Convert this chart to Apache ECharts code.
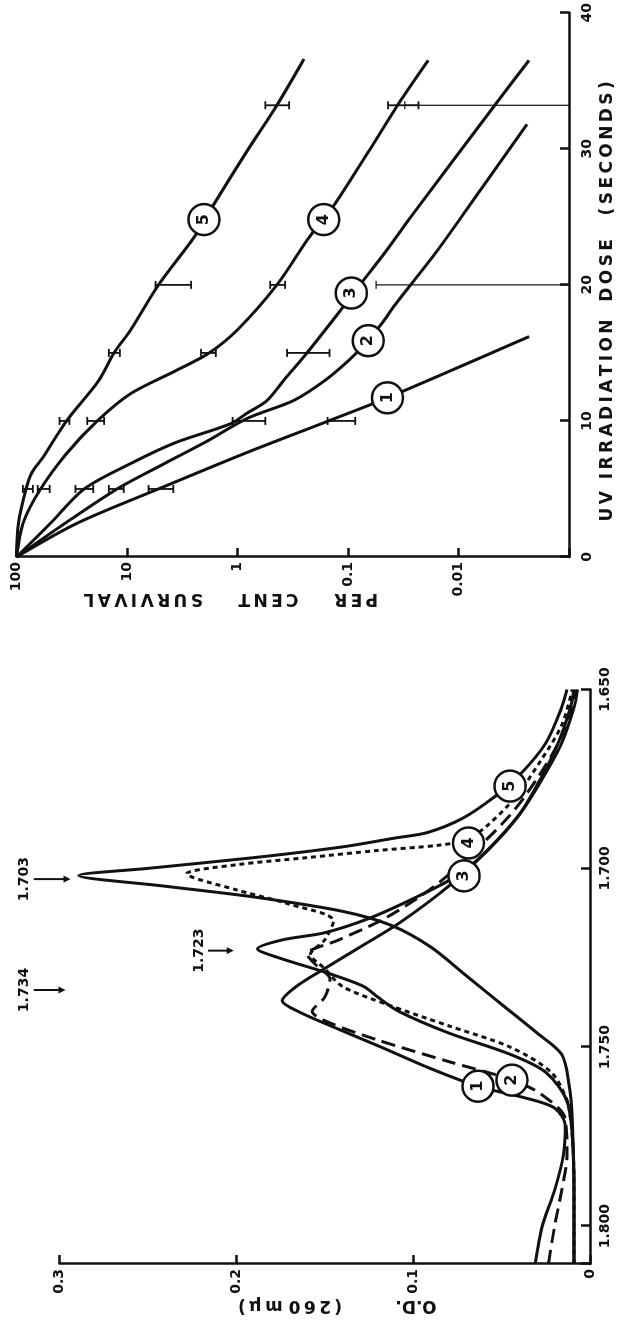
<!DOCTYPE html>
<html>
<head>
<meta charset="utf-8">
<script src="https://cdn.jsdelivr.net/npm/echarts@6/dist/echarts.min.js"></script>
<style>
  html, body { margin: 0; padding: 0; background: #fff; width: 621px; height: 1320px; overflow: hidden; }
  /* figure is printed sideways: draw it upright, then turn it 90deg anticlockwise */
  #chart { position: absolute; left: 0; top: 0; width: 1320px; height: 621px;
           transform-origin: 0 0; transform: translate(0, 1320px) rotate(-90deg); }
</style>
</head>
<body>
<div id="chart"></div>
<script>
// ---- Left panel: O.D. (260 mu) vs buoyant density ----
const densityTicks = [1.650, 1.700, 1.750, 1.800];
const odTicks = [0, 0.1, 0.2, 0.3];

const profile1 = [[1.8105,0.031],[1.800,0.027],[1.790,0.020],[1.780,0.015],[1.772,0.014],[1.767,0.020],[1.764,0.038],
  [1.761,0.063],[1.756,0.090],[1.750,0.118],[1.745,0.142],[1.740,0.165],[1.737,0.174],[1.733,0.166],[1.728,0.150],
  [1.722,0.130],[1.715,0.107],[1.705,0.080],[1.695,0.058],[1.685,0.040],[1.675,0.027],[1.665,0.016],[1.655,0.009],[1.650,0.007]];
const profile2 = [[1.8105,0.0235],[1.800,0.020],[1.790,0.016],[1.780,0.013],[1.770,0.014],[1.763,0.028],[1.759,0.045],
  [1.754,0.080],[1.748,0.120],[1.743,0.148],[1.740,0.157],[1.736,0.150],[1.731,0.147],[1.727,0.155],[1.724,0.160],
  [1.720,0.142],[1.714,0.116],[1.705,0.088],[1.695,0.065],[1.685,0.045],[1.675,0.030],[1.665,0.018],[1.655,0.010],[1.650,0.008]];
const profile3 = [[1.8105,0.009],[1.790,0.009],[1.775,0.010],[1.765,0.013],[1.757,0.025],[1.752,0.045],[1.746,0.080],
  [1.740,0.108],[1.736,0.120],[1.733,0.128],[1.729,0.150],[1.725,0.176],[1.7225,0.188],[1.720,0.174],[1.718,0.150],
  [1.714,0.125],[1.708,0.098],[1.702,0.075],[1.695,0.058],[1.685,0.040],[1.675,0.028],[1.665,0.018],[1.655,0.011],[1.650,0.009]];
const profile4 = [[1.8105,0.009],[1.790,0.009],[1.775,0.010],[1.765,0.013],[1.757,0.022],[1.750,0.045],[1.744,0.080],
  [1.738,0.115],[1.733,0.140],[1.728,0.150],[1.724,0.158],[1.720,0.150],[1.7147,0.145],[1.710,0.170],[1.706,0.200],
  [1.7015,0.228],[1.699,0.200],[1.697,0.160],[1.695,0.120],[1.6935,0.085],[1.692,0.070],[1.688,0.058],[1.680,0.042],
  [1.670,0.028],[1.660,0.016],[1.650,0.010]];
const profile5 = [[1.8105,0.009],[1.790,0.009],[1.770,0.010],[1.760,0.012],[1.752,0.016],[1.746,0.030],[1.738,0.050],
  [1.730,0.070],[1.722,0.090],[1.716,0.112],[1.712,0.140],[1.708,0.190],[1.705,0.240],[1.702,0.289],[1.700,0.250],
  [1.697,0.190],[1.694,0.140],[1.6915,0.110],[1.690,0.092],[1.686,0.072],[1.680,0.054],[1.674,0.040],[1.665,0.025],
  [1.655,0.016],[1.650,0.013]];
const profileTags = [[1.7609,0.0633,'1'],[1.7592,0.0441,'2'],[1.7021,0.0712,'3'],[1.6929,0.0687,'4'],[1.677,0.0452,'5']];

// marker arrows above the peaks: [density, tail O.D., head O.D., text]
const peakArrows = [[1.734,0.3145,0.2966,'1.734'],[1.723,0.2160,0.2014,'1.723'],[1.703,0.3145,0.2937,'1.703']];

// ---- Right panel: per cent survival vs UV dose ----
const doseTicks = [0, 10, 20, 30, 40];
const survivalTicks = [100, 10, 1, 0.1, 0.01];

const survival1 = [[0,100],[2.5,28],[5,5.2],[7.7,0.81],[10,0.15],[11.7,0.044],[16.2,0.0023]];
const survival2 = [[0,100],[2.5,36],[5,12.3],[6.9,4.5],[8.5,1.9],[10.2,0.81],[11.5,0.31],[13,0.16],[14.5,0.097],
  [15.9,0.066],[17.3,0.048],[18.6,0.037],[22.5,0.0156],[27,0.0063],[31.8,0.0024]];
const survival3 = [[0,100],[2.5,49],[5,24.4],[6.9,9.1],[8.4,3.66],[9.8,1.15],[10.6,0.81],[11.5,0.54],[13,0.38],
  [15,0.235],[18.4,0.11],[20.3,0.073],[22.5,0.045],[25,0.027],[33.2,0.0047],[36.5,0.0023]];
const survival4 = [[0,100],[2.5,87],[4.9,61.6],[7.6,35.3],[10,18.6],[12,9.3],[13.7,3.6],[15,1.8],[16.7,1.0],
  [20,0.44],[23.6,0.22],[25.8,0.135],[29.9,0.064],[33.2,0.0356],[36.5,0.0188]];
const survival5 = [[0,100],[2.5,96],[5,82],[6.2,72.6],[7.3,58],[10,35.3],[13,17.9],[15,13.1],[16.7,9.25],
  [20,5.19],[23.6,2.42],[25.8,1.67],[29.9,0.81],[33.2,0.44],[36.6,0.25]];
const survivalTags = [[11.7,0.044,'1'],[15.9,0.0656,'2'],[19.4,0.0933,'3'],[24.8,0.166,'4'],[24.8,2.01,'5']];

// error bars: [dose, low, high]; open bars run from high down to the axis
const errorBars = [[5,71.1,87.5],[5,50.1,64.3],[5,20.2,29.3],[5,10.7,14.6],[5,3.81,6.38],
  [10,33.2,40.8],[10,16.1,22.9],[10,0.56,1.107],[10,0.086,0.153],
  [15,11.6,14.6],[15,1.57,2.14],[15,0.147,0.356],
  [20,2.63,5.52],[20,0.371,0.506],
  [33.2,0.341,0.56],[33.2,0.023,0.0434]];
const openErrorBars = [[20,0.0557],[33.2,0.0306]];

const FONT = "'DejaVu Sans', sans-serif";
const INK = '#111';
const NB = '\u00a0';

// the lettering on the original is widely spaced: thin space between letters, wide gaps between words
const letterSpaced = (words, gap) => words.map(w => w.split('').join('\u2009')).join(NB.repeat(gap));

const chart = echarts.init(document.getElementById('chart'), null, { renderer: 'canvas', width: 1320, height: 621 });

function axisBase() {
  return {
    axisLine: { lineStyle: { color: INK, width: 2.5 } },
    axisTick: { inside: true, length: 9, lineStyle: { color: INK, width: 2.5 } },
    splitLine: { show: false },
    nameMoveOverlap: false,
    nameTextStyle: { color: INK, fontFamily: FONT, fontWeight: 'bold', fontSize: 17 }
  };
}
function labelStyle(formatter, margin) {
  return { color: INK, fontFamily: FONT, fontWeight: 'bold', fontSize: 14, margin: margin, formatter: formatter };
}
const onTick = (ticks, v) => ticks.some(t => Math.abs(t - v) < 1e-6);

function curve(data, xi, dash) {
  return {
    type: 'line', xAxisIndex: xi, yAxisIndex: xi, data: data, showSymbol: false, smooth: 0.3,
    lineStyle: { color: INK, width: 3, type: dash || 'solid', cap: 'butt' }, z: 3, silent: true
  };
}
function tags(data, xi) {
  return {
    type: 'scatter', xAxisIndex: xi, yAxisIndex: xi, data: data, symbol: 'circle', symbolSize: 31, z: 5,
    itemStyle: { color: '#fff', borderColor: INK, borderWidth: 2.5, opacity: 1 },
    label: { show: true, position: 'inside', formatter: p => p.value[2], color: INK,
             fontFamily: FONT, fontWeight: 'bold', fontSize: 16 }
  };
}

const option = {
  backgroundColor: '#fff',
  animation: false,
  grid: [
    { left: 56, top: 59.4, width: 574.5, height: 530.6 },
    { left: 763, top: 16.5, width: 545, height: 558.5 }
  ],
  xAxis: [
    Object.assign(axisBase(), {
      gridIndex: 0, type: 'value', min: 1.650, max: 1.8106, interval: 0.05, inverse: true,
      axisLabel: labelStyle(v => onTick(densityTicks, v) ? v.toFixed(3) : '', 8)
    }),
    Object.assign(axisBase(), {
      gridIndex: 1, type: 'value', min: 0, max: 40, interval: 10,
      name: letterSpaced(['UV'], 0) + NB + NB + letterSpaced(['IRRADIATION', 'DOSE'], 3) + NB.repeat(4) + letterSpaced(['(SECONDS)'], 0),
      nameLocation: 'middle', nameGap: 30,
      axisLabel: labelStyle(v => onTick(doseTicks, v) ? String(v) : '', 11)
    })
  ],
  yAxis: [
    Object.assign(axisBase(), {
      gridIndex: 0, type: 'value', min: 0, max: 0.3, interval: 0.1,
      name: 'O.D.' + NB.repeat(9) + letterSpaced(['(260', 'm\u03bc)'], 1), nameLocation: 'middle', nameGap: 33,
      axisLabel: labelStyle(v => onTick(odTicks, v) ? (v === 0 ? '0' : v.toFixed(1)) : '', 5)
    }),
    Object.assign(axisBase(), {
      gridIndex: 1, type: 'log', logBase: 10, min: 0.001, max: 100,
      name: letterSpaced(['PER', 'CENT', 'SURVIVAL'], 6), nameLocation: 'middle', nameGap: 33,
      axisLabel: labelStyle(v => {
        const hit = survivalTicks.find(t => Math.abs(Math.log10(t) - Math.log10(v)) < 1e-6);
        return hit === undefined ? '' : String(hit);
      }, 5)
    })
  ],
  series: [
    curve(profile1, 0), curve(profile2, 0, [14, 7]), curve(profile3, 0), curve(profile4, 0, [5, 4]), curve(profile5, 0),
    tags(profileTags, 0),
    {
      type: 'custom', xAxisIndex: 0, yAxisIndex: 0, data: peakArrows, clip: false, z: 4,
      renderItem: (params, api) => {
        const tail = api.coord([api.value(0), api.value(1)]);
        const head = api.coord([api.value(0), api.value(2)]);
        return { type: 'group', children: [
          { type: 'line', shape: { x1: tail[0], y1: tail[1], x2: head[0], y2: head[1] - 5 },
            style: { stroke: INK, lineWidth: 2 } },
          { type: 'polygon', shape: { points: [[head[0] - 3.5, head[1] - 7], [head[0] + 3.5, head[1] - 7], [head[0], head[1]]] },
            style: { fill: INK } },
          { type: 'text', x: tail[0], y: tail[1] - 2,
            style: { text: peakArrows[params.dataIndex][3], fill: INK, font: 'bold 14px ' + FONT,
                     align: 'center', verticalAlign: 'bottom' } }
        ] };
      }
    },
    curve(survival1, 1), curve(survival2, 1), curve(survival3, 1), curve(survival4, 1), curve(survival5, 1),
    {
      type: 'custom', xAxisIndex: 1, yAxisIndex: 1, data: errorBars, z: 4,
      renderItem: (params, api) => {
        const lo = api.coord([api.value(0), api.value(1)]);
        const hi = api.coord([api.value(0), api.value(2)]);
        const s = { stroke: INK, lineWidth: 1.8 };
        return { type: 'group', children: [
          { type: 'line', shape: { x1: lo[0], y1: lo[1], x2: hi[0], y2: hi[1] }, style: s },
          { type: 'line', shape: { x1: lo[0] - 4, y1: lo[1], x2: lo[0] + 4, y2: lo[1] }, style: s },
          { type: 'line', shape: { x1: hi[0] - 4, y1: hi[1], x2: hi[0] + 4, y2: hi[1] }, style: s }
        ] };
      }
    },
    {
      type: 'custom', xAxisIndex: 1, yAxisIndex: 1, data: openErrorBars, z: 4,
      renderItem: (params, api) => {
        const hi = api.coord([api.value(0), api.value(1)]);
        const lo = api.coord([api.value(0), 0.001]);
        const s = { stroke: INK, lineWidth: 1.2 };
        return { type: 'group', children: [
          { type: 'line', shape: { x1: lo[0], y1: lo[1], x2: hi[0], y2: hi[1] }, style: s },
          { type: 'line', shape: { x1: hi[0] - 4, y1: hi[1], x2: hi[0] + 4, y2: hi[1] }, style: s }
        ] };
      }
    },
    tags(survivalTags, 1)
  ]
};

// nudge the axis titles along their axes to where the original lettering sits
option.xAxis[1].nameTextStyle.padding = [0, 33, 0, 0];
option.yAxis[0].nameTextStyle.padding = [0, 25, 0, 0];
option.yAxis[1].nameTextStyle.padding = [0, 0, 0, 124];

chart.setOption(option);
</script>
</body>
</html>
